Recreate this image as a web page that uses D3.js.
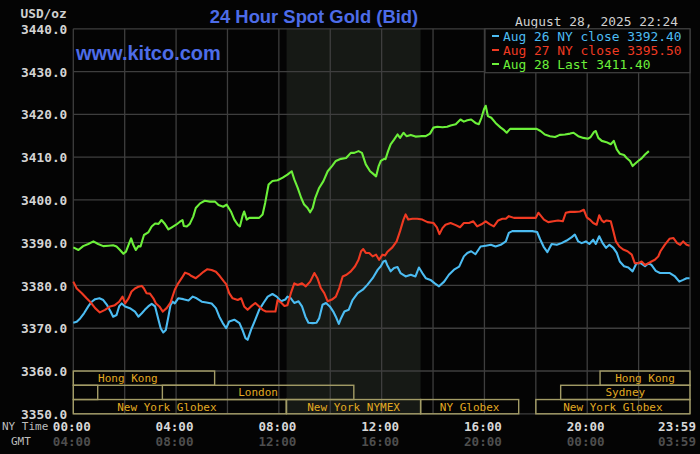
<!DOCTYPE html>
<html>
<head>
<meta charset="utf-8">
<script src="https://cdn.jsdelivr.net/npm/d3@7"></script>
<style>
  html, body { margin: 0; padding: 0; background: #040404; }
  svg { display: block; }
  .mono { font-family: "DejaVu Sans Mono", monospace; }
</style>
</head>
<body>
<svg id="chart" width="700" height="454"></svg>
<script>
// minutes since 00:00 NY time, price
const aug26 = [
  [0,3371.3],[8,3371.5],[16,3372.3],[25,3373.5],[35,3375.1],[43,3376.2],[51,3376.8],[61,3377.0],
  [70,3376.6],[79,3375.4],[87,3373.9],[93,3372.7],[101,3373.1],[107,3375.1],[113,3375.8],[121,3375.1],
  [132,3374.7],[144,3373.9],[152,3372.7],[160,3373.5],[167,3374.3],[175,3375.1],[183,3375.7],[191,3375.1],
  [199,3371.9],[204,3370.0],[210,3369.0],[216,3369.6],[222,3372.7],[227,3375.4],[232,3376.2],[237,3375.8],
  [245,3377.0],[257,3376.8],[269,3376.5],[279,3377.4],[288,3377.0],[300,3376.2],[311,3376.0],[323,3375.8],
  [333,3374.7],[341,3372.7],[349,3371.2],[357,3370.0],[364,3371.6],[376,3372.0],[388,3371.2],[395,3369.6],
  [402,3367.7],[407,3367.3],[415,3369.6],[425,3372.0],[434,3374.3],[444,3375.9],[454,3377.4],[465,3378.0],
  [475,3377.4],[485,3376.3],[495,3376.7],[500,3377.4],[508,3377.0],[516,3375.9],[526,3376.3],[534,3375.1],
  [542,3372.7],[549,3371.3],[559,3371.2],[568,3371.3],[574,3372.3],[582,3375.5],[590,3375.9],[599,3375.1],
  [607,3373.9],[613,3372.7],[620,3371.0],[625,3372.3],[633,3373.9],[643,3374.3],[652,3376.6],[664,3378.2],
  [676,3379.0],[687,3380.2],[699,3381.7],[711,3383.7],[718,3384.5],[724,3385.6],[729,3385.8],[733,3384.8],
  [741,3383.3],[749,3384.1],[757,3384.3],[764,3382.9],[776,3382.1],[788,3382.5],[799,3382.1],[807,3384.2],
  [815,3382.9],[823,3381.7],[834,3381.3],[844,3380.5],[854,3379.8],[866,3380.9],[877,3382.5],[889,3383.7],
  [901,3384.4],[912,3386.8],[920,3387.6],[929,3388.0],[939,3387.3],[951,3389.1],[963,3389.3],[975,3389.5],
  [986,3389.1],[998,3389.5],[1010,3390.3],[1017,3392.3],[1025,3392.7],[1037,3392.7],[1052,3392.7],[1072,3392.7],
  [1083,3392.5],[1090,3390.8],[1098,3389.1],[1107,3387.8],[1117,3389.7],[1129,3389.5],[1140,3389.9],[1152,3390.5],
  [1164,3391.3],[1171,3391.9],[1179,3390.3],[1187,3389.9],[1197,3390.3],[1205,3389.7],[1214,3390.7],[1220,3389.7],
  [1228,3391.5],[1236,3389.9],[1244,3388.8],[1252,3389.5],[1261,3388.8],[1269,3387.6],[1276,3385.6],[1286,3384.5],
  [1296,3384.2],[1306,3383.3],[1315,3385.2],[1325,3385.2],[1335,3384.5],[1343,3385.2],[1350,3384.8],[1360,3383.4],
  [1370,3382.9],[1381,3382.9],[1393,3382.9],[1405,3382.1],[1415,3380.9],[1424,3381.3],[1432,3381.7],[1439,3381.7]
];
const aug27 = [
  [0,3380.9],[8,3379.3],[20,3378.2],[31,3377.0],[41,3376.0],[51,3374.7],[62,3373.7],[74,3374.3],
  [86,3375.1],[97,3375.4],[107,3376.2],[115,3377.4],[121,3375.8],[129,3377.0],[136,3378.6],[144,3379.3],
  [152,3379.7],[160,3379.9],[165,3379.3],[171,3378.2],[179,3378.1],[187,3377.0],[193,3375.8],[201,3375.1],
  [209,3373.9],[218,3374.7],[227,3376.0],[237,3379.0],[245,3380.5],[253,3381.7],[261,3383.0],[269,3382.7],
  [276,3382.2],[286,3381.7],[296,3382.5],[304,3383.2],[313,3383.8],[323,3383.6],[333,3383.2],[342,3382.2],
  [352,3380.9],[357,3380.3],[364,3378.2],[372,3377.0],[384,3376.6],[392,3377.0],[399,3375.1],[407,3374.3],
  [415,3375.1],[425,3375.9],[434,3375.1],[442,3374.3],[450,3373.9],[462,3373.9],[472,3373.9],[477,3376.6],
  [485,3376.0],[493,3375.2],[500,3375.4],[508,3378.2],[516,3380.5],[524,3380.1],[534,3380.5],[543,3379.8],
  [553,3380.9],[563,3382.9],[570,3381.7],[578,3379.4],[586,3378.2],[594,3376.3],[604,3376.7],[613,3377.4],
  [621,3379.4],[629,3382.1],[638,3382.5],[648,3383.3],[658,3384.5],[666,3386.0],[672,3388.0],[677,3388.5],
  [683,3387.6],[691,3387.6],[699,3386.8],[707,3387.2],[714,3386.0],[722,3387.2],[728,3387.0],[733,3387.8],
  [745,3388.9],[755,3390.3],[763,3392.7],[771,3395.4],[776,3396.6],[782,3395.4],[792,3395.6],[803,3395.6],
  [815,3395.4],[827,3394.8],[841,3394.6],[849,3393.6],[855,3392.0],[862,3393.4],[869,3394.2],[881,3394.6],
  [893,3394.1],[903,3393.6],[912,3394.6],[924,3394.6],[934,3395.0],[943,3393.8],[953,3394.3],[963,3395.0],
  [973,3394.3],[982,3393.8],[992,3395.2],[1002,3395.6],[1010,3395.6],[1017,3396.2],[1029,3395.8],[1045,3395.8],
  [1060,3395.8],[1080,3395.8],[1086,3397.0],[1091,3396.4],[1099,3395.4],[1109,3394.8],[1121,3395.0],[1132,3395.2],
  [1143,3395.0],[1150,3397.0],[1160,3397.2],[1171,3397.2],[1183,3397.3],[1192,3397.7],[1199,3395.9],[1206,3395.4],
  [1214,3394.6],[1222,3394.2],[1228,3396.4],[1234,3395.2],[1239,3394.8],[1245,3395.2],[1255,3395.0],[1261,3392.7],
  [1267,3390.3],[1275,3389.1],[1284,3388.4],[1294,3388.0],[1304,3387.2],[1311,3385.2],[1319,3385.2],[1327,3385.6],
  [1335,3384.8],[1343,3385.2],[1350,3385.6],[1358,3386.0],[1366,3386.8],[1371,3388.0],[1381,3389.5],[1392,3390.9],
  [1401,3391.1],[1410,3389.9],[1417,3389.5],[1424,3390.3],[1432,3389.5],[1439,3389.3]
];
const aug28 = [
  [0,3388.9],[12,3388.3],[23,3389.2],[35,3389.7],[47,3390.3],[58,3389.7],[70,3389.2],[82,3389.3],
  [93,3389.4],[101,3389.1],[109,3388.3],[117,3387.4],[123,3387.9],[129,3389.5],[135,3391.0],[140,3389.5],
  [146,3388.3],[152,3389.2],[157,3389.1],[165,3391.8],[175,3392.4],[183,3393.8],[191,3394.5],[199,3394.4],
  [206,3395.3],[213,3394.5],[222,3393.1],[230,3393.6],[240,3394.2],[249,3394.9],[255,3395.3],[258,3393.9],
  [265,3393.8],[272,3394.4],[280,3396.1],[286,3398.1],[296,3399.2],[307,3399.8],[319,3399.6],[331,3399.6],
  [339,3398.8],[350,3398.4],[358,3398.9],[368,3397.3],[376,3395.4],[384,3394.2],[389,3393.8],[395,3396.2],
  [399,3397.3],[405,3395.4],[411,3395.8],[423,3395.8],[434,3395.8],[442,3396.6],[448,3399.3],[456,3403.6],
  [465,3404.4],[477,3404.6],[489,3405.2],[500,3405.9],[510,3406.7],[516,3404.8],[524,3402.8],[532,3400.5],
  [539,3398.9],[547,3398.1],[553,3397.1],[559,3398.1],[565,3400.5],[574,3402.8],[584,3404.4],[594,3406.7],
  [604,3407.9],[613,3409.1],[625,3409.6],[637,3409.8],[648,3411.0],[656,3411.0],[666,3411.4],[674,3411.0],
  [683,3408.3],[693,3406.7],[699,3406.2],[707,3405.5],[713,3407.9],[718,3409.1],[726,3409.6],[729,3409.5],
  [735,3411.4],[741,3413.0],[749,3414.1],[757,3415.3],[763,3414.5],[771,3415.7],[778,3414.9],[788,3415.2],
  [799,3414.8],[811,3414.9],[823,3414.9],[833,3415.5],[841,3416.9],[850,3417.1],[862,3417.0],[873,3417.1],
  [881,3417.4],[893,3417.7],[904,3418.8],[912,3418.3],[920,3418.6],[929,3418.8],[939,3418.0],[947,3417.7],
  [953,3419.2],[959,3421.2],[963,3422.0],[968,3419.6],[976,3419.2],[986,3418.0],[998,3416.9],[1006,3416.3],
  [1012,3415.7],[1020,3416.6],[1033,3416.6],[1052,3416.6],[1068,3416.6],[1082,3416.6],[1091,3416.1],[1101,3415.3],
  [1113,3414.9],[1125,3414.7],[1136,3415.2],[1148,3415.3],[1160,3415.5],[1168,3415.7],[1179,3414.9],[1191,3414.5],
  [1202,3414.3],[1208,3414.7],[1216,3415.9],[1220,3416.1],[1226,3414.5],[1234,3413.8],[1245,3413.5],[1255,3413.0],
  [1262,3413.8],[1269,3411.8],[1276,3410.8],[1286,3410.5],[1292,3409.8],[1300,3409.1],[1306,3407.9],[1311,3408.4],
  [1319,3409.1],[1327,3409.7],[1335,3410.6],[1344,3411.4]
];

const legendLabels = ["Aug 26 NY close 3392.40", "Aug 27 NY close 3395.50", "Aug 28 Last 3411.40"];
const yTicks = [3350, 3360, 3370, 3380, 3390, 3400, 3410, 3420, 3430, 3440];
const nyTimeTicks = [0, 240, 480, 720, 960, 1200, 1439];
const nyTimeLabels = ["00:00", "04:00", "08:00", "12:00", "16:00", "20:00", "23:59"];
const gmtLabels = ["04:00", "08:00", "12:00", "16:00", "20:00", "00:00", "03:59"];
const nymexHours = [498, 811];

// trading sessions: row, start, end (minutes, may run past the day), label
const sessionRows = [0, 0, 1, 1, 1, 2, 2, 2, 2];
const sessionStart = [-75, 1230, -1200, 208, 1138, -60, 498, 811, 1080];
const sessionEnd = [330, 1440, 57, 655, 1440, 497, 811, 1040, 1440];
const sessionNames = ["Hong Kong", "Hong Kong", "Sydney", "London", "Sydney",
  "New York Globex", "New York NYMEX", "NY Globex", "New York Globex"];

const colors = ["#4cbcf2", "#f03a22", "#6cf03a"];

const svg = d3.select("#chart");
const W = 700, H = 454;
const plotL = 73.3, plotR = 690, plotT = 28.8, plotB = 413.8;

const x = d3.scaleLinear().domain([0, 1440]).range([plotL, plotR]);
const y = d3.scaleLinear().domain([3350, 3440]).range([plotB, plotT]);

svg.append("rect").attr("width", W).attr("height", H).attr("fill", "#040404");

// NYMEX pit session shading
svg.append("rect")
  .attr("x", x(nymexHours[0])).attr("y", plotT)
  .attr("width", x(nymexHours[1]) - x(nymexHours[0]))
  .attr("height", plotB - plotT)
  .attr("fill", "#161915");

// grid
const grid = svg.append("g").attr("stroke", "#3e3e3e").attr("stroke-width", 1.3);
grid.selectAll(".h").data(yTicks).join("line")
  .attr("x1", plotL).attr("x2", plotR)
  .attr("y1", d => y(d)).attr("y2", d => y(d));
grid.selectAll(".v").data(d3.range(0, 1441, 120)).join("line")
  .attr("x1", d => x(d)).attr("x2", d => x(d))
  .attr("y1", plotT).attr("y2", plotB);

// session boxes along the bottom band
const rowH = (y(3350) - y(3360)) / 3;
const sess = svg.append("g");
sessionNames.forEach((name, i) => {
  const s = Math.max(0, sessionStart[i]), e = Math.min(1440, sessionEnd[i]);
  const ry = y(3360) + sessionRows[i] * rowH;
  sess.append("rect")
    .attr("x", x(s)).attr("y", ry)
    .attr("width", x(e) - x(s)).attr("height", rowH)
    .attr("fill", "none").attr("stroke", "#a39c66").attr("stroke-width", 1.4);
  const mid = (sessionStart[i] + sessionEnd[i]) / 2;
  if (mid > 0 && mid < 1440) {
    sess.append("text")
      .attr("class", "mono")
      .attr("x", x(Math.max(mid, s)))
      .attr("y", ry + rowH / 2 + 4)
      .attr("text-anchor", "middle")
      .attr("font-size", 11)
      .attr("fill", "#e2aa22")
      .text(name);
  }
});

// price lines
const line = d3.line().x(d => x(d[0])).y(d => y(d[1]));
[aug26, aug27, aug28].forEach((series, i) => {
  svg.append("path")
    .datum(series)
    .attr("d", line)
    .attr("fill", "none")
    .attr("stroke", colors[i])
    .attr("stroke-width", 2.1)
    .attr("stroke-linejoin", "round");
});

// y axis labels
const yAxis = d3.axisLeft(y).tickValues(yTicks).tickSize(0).tickPadding(6)
  .tickFormat(d3.format(".1f"));
svg.append("g")
  .attr("transform", `translate(${plotL},0)`)
  .call(yAxis)
  .call(g => g.select(".domain").remove())
  .selectAll("text")
  .attr("class", "mono")
  .attr("font-size", 12.8)
  .attr("font-weight", "bold")
  .attr("fill", "#d4d4d4")
  .attr("dy", "0.36em");

svg.append("text").attr("class", "mono")
  .attr("x", 20.5).attr("y", 17.5)
  .attr("font-size", 12.8).attr("font-weight", "bold").attr("fill", "#d0d0d0")
  .text("USD/oz");

// time labels
const tx = svg.append("g").attr("class", "mono");
nyTimeTicks.forEach((t, i) => {
  const last = i === nyTimeTicks.length - 1;
  tx.append("text")
    .attr("x", last ? W - 4 : x(t) - 1.5)
    .attr("y", 431)
    .attr("text-anchor", last ? "end" : "middle")
    .attr("font-size", 12.6).attr("font-weight", "bold")
    .attr("fill", "#d8d8d8")
    .text(nyTimeLabels[i]);
  tx.append("text")
    .attr("x", last ? W - 4 : x(t) - 1.5)
    .attr("y", 446)
    .attr("text-anchor", last ? "end" : "middle")
    .attr("font-size", 12.6).attr("font-weight", "bold")
    .attr("fill", "#4e4e4e")
    .text(gmtLabels[i]);
});
tx.append("text").attr("x", 2).attr("y", 430).attr("font-size", 11).attr("fill", "#bdbdbd").text("NY Time");
tx.append("text").attr("x", 11).attr("y", 445).attr("font-size", 11).attr("fill", "#bdbdbd").text("GMT");

// titles
svg.append("text")
  .attr("x", 314).attr("y", 23)
  .attr("text-anchor", "middle")
  .attr("font-family", "Liberation Sans, Arial, sans-serif")
  .attr("font-weight", "bold")
  .attr("font-size", 18.4)
  .attr("fill", "#4d6ce8")
  .text("24 Hour Spot Gold (Bid)");

svg.append("text")
  .attr("x", 76).attr("y", 60)
  .attr("font-family", "Liberation Sans, Arial, sans-serif")
  .attr("font-weight", "bold")
  .attr("font-size", 20)
  .attr("fill", "#4d6ce8")
  .text("www.kitco.com");

svg.append("text").attr("class", "mono")
  .attr("x", 678).attr("y", 26)
  .attr("text-anchor", "end")
  .attr("font-size", 12.9).attr("fill", "#d0d0d0")
  .text("August 28, 2025 22:24");

// legend
const lg = svg.append("g");
lg.append("rect")
  .attr("x", 485).attr("y", plotT)
  .attr("width", plotR - 485).attr("height", 72.7 - plotT)
  .attr("fill", "#040404").attr("stroke", "#3e3e3e").attr("stroke-width", 1.3);
legendLabels.forEach((lab, i) => {
  const by = 41 + i * 14;
  lg.append("line")
    .attr("x1", 492).attr("x2", 499)
    .attr("y1", by - 5).attr("y2", by - 5)
    .attr("stroke", colors[i]).attr("stroke-width", 2);
  lg.append("text").attr("class", "mono")
    .attr("x", 503).attr("y", by)
    .attr("font-size", 12.9).attr("fill", colors[i])
    .text(lab);
});
</script>
</body>
</html>
